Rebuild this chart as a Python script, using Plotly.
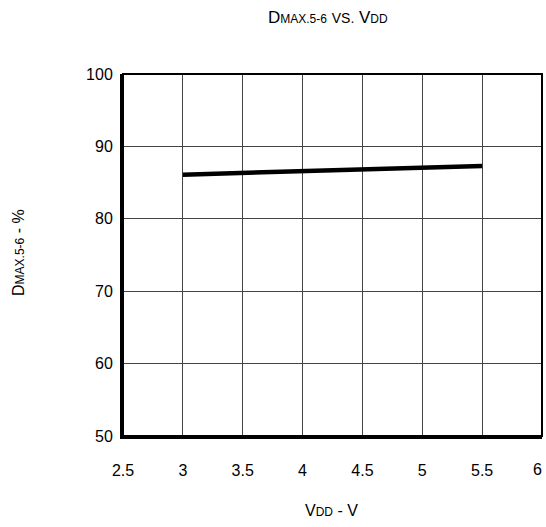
import plotly.graph_objects as go

vdd = [3.0, 5.5]
dmax = [86.1, 87.3]

x_ticks = [2.5, 3, 3.5, 4, 4.5, 5, 5.5, 6]
x_tick_labels = ["2.5", "3", "3.5", "4", "4.5", "5", "5.5", "6"]
y_ticks = [50, 60, 70, 80, 90, 100]
y_tick_labels = ["50", "60", "70", "80", "90", "100"]

FONT = "Arial, Liberation Sans, sans-serif"
W, H = 546, 527
L, R, T, B = 123, 4, 74, 91
pw, ph = W - L - R, H - T - B

fig = go.Figure()
fig.add_trace(go.Scatter(x=vdd, y=dmax, mode="lines",
                         line=dict(color="black", width=4.5), showlegend=False))

annotations = [
    dict(text="D<span style='font-size:12px'>MAX.5-6</span> <span style='font-size:14px'>VS.</span> V<span style='font-size:12px'>DD</span>",
         xref="paper", yref="paper", x=(328 - L) / pw, y=1 + (T - 18) / ph,
         xanchor="center", yanchor="middle", showarrow=False, font=dict(size=17)),
    dict(text="V<span style='font-size:12px'>DD</span> - V",
         xref="paper", yref="paper", x=(331 - L) / pw, y=-(510 - T - ph) / ph,
         xanchor="center", yanchor="middle", showarrow=False, font=dict(size=16)),
    dict(text="D<span style='font-size:12px'>MAX.5-6</span> - %",
         xref="paper", yref="paper", x=-(L - 18) / pw, y=(H - B - 253) / ph,
         xanchor="center", yanchor="middle", showarrow=False, textangle=-90,
         font=dict(size=16)),
]
# last x tick label (plotly hides labels that overflow the paper edge)
annotations.append(dict(text=x_tick_labels[-1], xref="x", yref="paper", x=x_ticks[-1],
                        y=-(469 - T - ph) / ph, xanchor="right", yanchor="middle",
                        xshift=2, showarrow=False, font=dict(size=16)))

fig.update_layout(
    width=W, height=H,
    margin=dict(l=L, r=R, t=T, b=B, autoexpand=False),
    paper_bgcolor="white", plot_bgcolor="white",
    font=dict(family=FONT, color="black", size=16),
    xaxis=dict(range=[2.5, 6], tickvals=x_ticks[:-1], ticktext=x_tick_labels[:-1],
               showgrid=True, gridcolor="#444", gridwidth=1,
               showline=True, linecolor="black", linewidth=3, mirror=False,
               ticks="", ticklabelstandoff=18, zeroline=False, automargin=False,
               tickfont=dict(size=16)),
    yaxis=dict(range=[50, 100], tickvals=y_ticks, ticktext=y_tick_labels,
               showgrid=True, gridcolor="#444", gridwidth=1,
               showline=True, linecolor="black", linewidth=3, mirror=False,
               ticks="", ticklabelstandoff=4, zeroline=False, automargin=False,
               tickfont=dict(size=16)),
    shapes=[dict(type="rect", xref="paper", yref="paper", x0=0, y0=0, x1=1, y1=1,
                 line=dict(color="black", width=2), layer="above")],
    annotations=annotations,
)

fig.write_html("out.html", config={"displayModeBar": False},
               post_script="document.body.style.margin='0';")
